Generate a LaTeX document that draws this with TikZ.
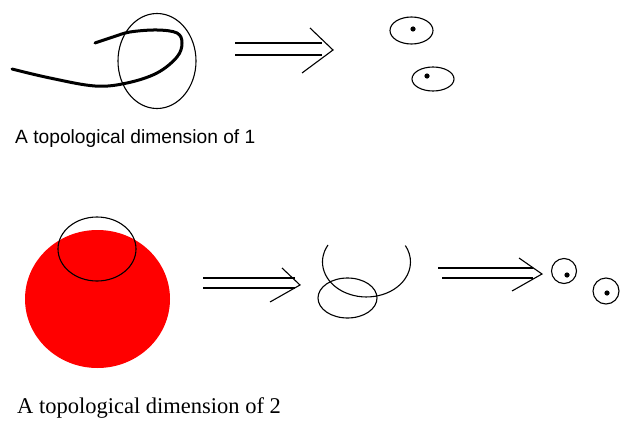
\documentclass[tikz,border=0pt]{standalone}
\usepackage{fontspec}
\newfontfamily\arialfont{Liberation Sans}
\newfontfamily\timesfont{Liberation Serif}
\usepackage{tikz}
\usetikzlibrary{calc}

\begin{document}
\begin{tikzpicture}[x=1pt, y=-1pt,
    trait/.style={black, line width=1.1pt},
    epais/.style={black, line width=3pt, line cap=round},
    point/.style={black, fill=black}]
  \useasboundingbox (0,0) rectangle (620,420);
  % Dimension 1 : courbe et voisinage
  \draw[epais] plot[smooth, tension=0.6] coordinates {(12,69) (50,78) (95,86) (127,83) (157,73) (177,57) (182,43) (177,33) (157,30) (130,32) (113,37) (95,43)};
  \draw[trait] (157,61) ellipse (39 and 47.5);
  % Fleche du haut
  \draw[trait] (235,43) -- (322,43);
  \draw[trait] (235,55) -- (322,55);
  \draw[trait] (310,28) -- (333,50) -- (302,73);
  % Deux petits voisinages
  \draw[trait] (411.5,30.5) ellipse (21.5 and 13.5);
  \fill[point] (413,29) circle (2.6);
  \draw[trait] (433,79) ellipse (21 and 12);
  \fill[point] (427,76) circle (2.6);
  \node[anchor=base west, inner sep=0, font=\arialfont\fontsize{19.2}{22}\selectfont] (titreA) at (15,143) {A topological dimension of 1};
  % Dimension 2 : disque rouge
  \fill[red] (97.5,299) ellipse (72.5 and 69);
  \draw[trait] (97,249) ellipse (39 and 32);
  % Premiere fleche du bas
  \draw[trait] (203,278) -- (295,278);
  \draw[trait] (203,288) -- (295,288);
  \draw[trait] (282,268) -- (300,285) -- (270,302);
  % Arc et petite ellipse
  \draw[trait] (328,245) arc[start angle=209, end angle=-28, x radius=44, y radius=35];
  \draw[trait] (347.5,298) ellipse (29.5 and 20);
  % Deuxieme fleche du bas
  \draw[trait] (438,268) -- (533,268);
  \draw[trait] (442,278) -- (533,278);
  \draw[trait] (519,258) -- (542,274) -- (512,291);
  % Points
  \draw[trait] (564,271) circle (12.5);
  \fill[point] (567,275) circle (2.6);
  \draw[trait] (606,291) circle (13);
  \fill[point] (607,293) circle (2.6);
  \node[anchor=base west, inner sep=0, font=\timesfont\fontsize{22.5}{26}\selectfont] (titreB) at (17,413) {A topological dimension of 2};
\end{tikzpicture}
\end{document}
